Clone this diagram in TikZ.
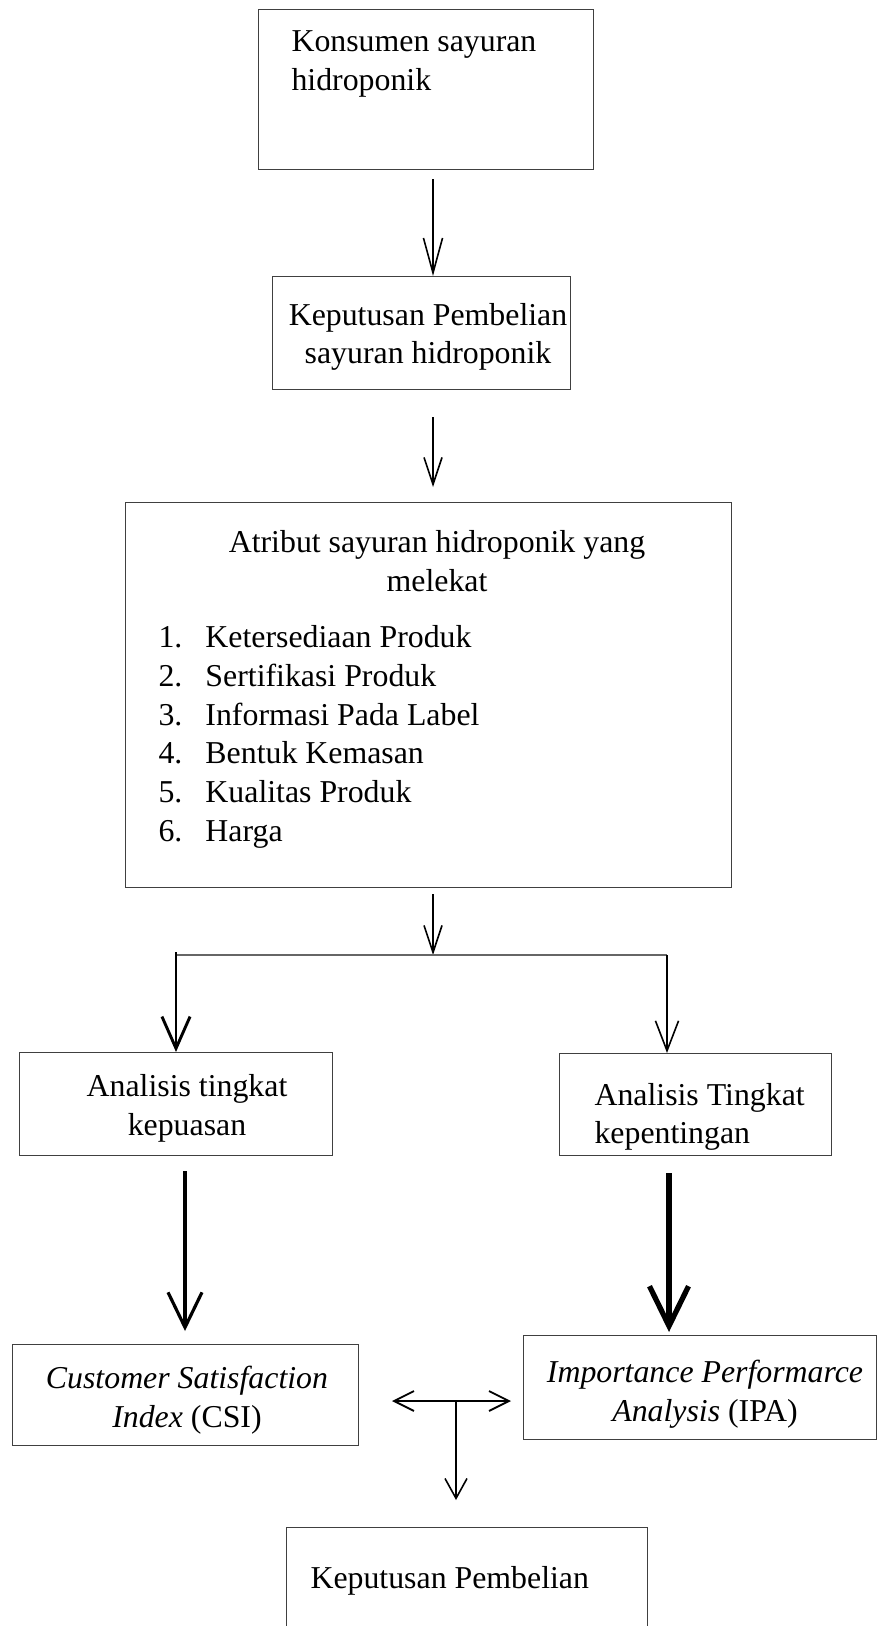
\documentclass[tikz,border=0pt]{standalone}
\usepackage{fontspec}
\setmainfont{Liberation Serif}
\usepackage{tikz}
\usetikzlibrary{arrows.meta}
\tikzset{
  box/.style={draw=black!75, line width=0.45pt, anchor=north west, inner sep=0pt},
  txt/.style={inner sep=0pt, font=\fontsize{12}{14.6}\selectfont},
  arr/.style n args={3}{line width=#1, -{Straight Barb[length=#2, width=#3]}},
}

\begin{document}
\begin{tikzpicture}[x=0.377pt, y=-0.377pt]
        \useasboundingbox (0,0) rectangle (877,1626);
        \clip (0,0) rectangle (877,1626);

        % Boxes
        \node[box, minimum width=126.3pt, minimum height=60.3pt] (konsumen) at (258,9) {};
        \node[box, minimum width=112.3pt, minimum height=42.6pt] (keputusan) at (272,276) {};
        \node[box, minimum width=228.5pt, minimum height=145.1pt] (atribut) at (125,502) {};
        \node[box, minimum width=118.0pt, minimum height=38.8pt] (puas) at (19,1052) {};
        \node[box, minimum width=102.5pt, minimum height=38.5pt] (penting) at (559,1053) {};
        \node[box, minimum width=130.4pt, minimum height=38.1pt] (csi) at (12,1344) {};
        \node[box, minimum width=133.1pt, minimum height=39.2pt] (ipa) at (523,1335) {};
        \node[box, minimum width=136.1pt, minimum height=60.3pt] (beli) at (286,1527) {};

        % Texts
        \node[txt, anchor=west, align=left] (tkonsumen) at (291,64) {Konsumen sayuran\\hidroponik};
        \node[txt, align=center] (tkeputusan) at (428,337) {Keputusan Pembelian\\sayuran hidroponik};
        \node[txt, align=center] (tatribut) at (437,561) {Atribut sayuran hidroponik yang\\melekat};
        \node[txt, anchor=west, align=left] (tlist) at (158,737) {%
          \makebox[17.7pt][l]{1.}Ketersediaan Produk\\
          \makebox[17.7pt][l]{2.}Sertifikasi Produk\\
          \makebox[17.7pt][l]{3.}Informasi Pada Label\\
          \makebox[17.7pt][l]{4.}Bentuk Kemasan\\
          \makebox[17.7pt][l]{5.}Kualitas Produk\\
          \makebox[17.7pt][l]{6.}Harga};
        \node[txt, align=center] (tpuas) at (187,1108) {Analisis tingkat\\kepuasan};
        \node[txt, anchor=west, align=left] (tpenting) at (594,1117) {Analisis Tingkat\\kepentingan};
        \node[txt, align=center] (tcsi) at (187,1400) {\textit{Customer Satisfaction}\\\textit{Index} (CSI)};
        \node[txt, align=center] (tipa) at (705,1394) {\textit{Importance Performarce}\\\textit{Analysis} (IPA)};
        \node[txt, anchor=west] (tbeli) at (310,1581) {Keputusan Pembelian};

        % Arrows
        \coordinate (s1) at (433,179);
        \draw[arr={0.6pt}{13.2pt}{7.2pt}] (s1) -- (s1 |- keputusan.north);
        \coordinate (s2) at (433,417);
        \coordinate (e2) at (433,487);
        \draw[arr={0.6pt}{10.2pt}{6.8pt}] (s2) -- (e2);
        \coordinate (s3) at (433,894);
        \coordinate (jm) at (433,955);
        \draw[arr={0.6pt}{10.2pt}{6.8pt}] (s3) -- (jm);
        \coordinate (jl) at (176,955);
        \coordinate (jr) at (667,955);
        \draw[black!60, line width=0.8pt] (jl) -- (jr);
        \coordinate (s4) at (176,952);
        \draw[arr={1.1pt}{12pt}{10.6pt}] (s4) -- (s4 |- puas.north);
        \draw[arr={0.6pt}{11.3pt}{8.7pt}] (jr) -- (jr |- penting.north);
        \coordinate (s6) at (185,1171);
        \coordinate (e6) at (185,1331);
        \draw[arr={1.2pt}{13.2pt}{12.8pt}] (s6) -- (e6);
        \coordinate (s7) at (669,1173);
        \coordinate (e7) at (669,1332);
        \draw[arr={2pt}{15pt}{14.7pt}] (s7) -- (e7);
        \coordinate (dl) at (392,1401);
        \coordinate (dr) at (511,1401);
        \coordinate (dm) at (456,1401);
        \coordinate (de) at (456,1500);
        \draw[line width=0.7pt, {Straight Barb[length=7.5pt, width=7.5pt]}-{Straight Barb[length=7.5pt, width=7.5pt]}] (dl) -- (dr);
        \draw[arr={0.6pt}{7.5pt}{8.3pt}] (dm) -- (de);
\end{tikzpicture}
\end{document}
